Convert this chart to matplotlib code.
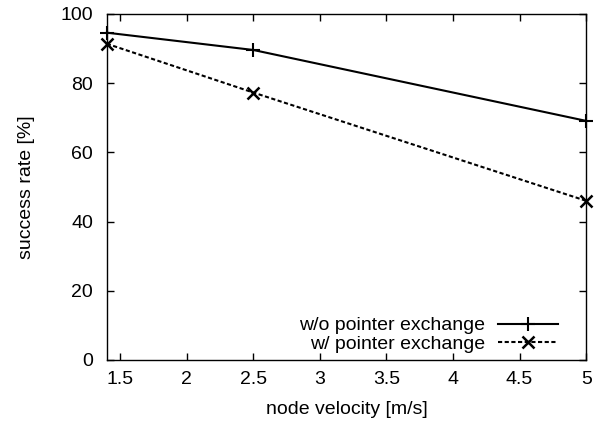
import matplotlib
matplotlib.use("Agg")
import matplotlib.pyplot as plt

plt.rcParams['font.family'] = ['Liberation Sans', 'DejaVu Sans']

velocity = [1.4, 2.5, 5.0]
without_exchange = [94.6, 89.6, 69.1]
with_exchange = [91.4, 77.3, 46.0]

fig = plt.figure(figsize=(6, 4.24), dpi=100)
ax = fig.add_axes([0.178, 0.151, 0.799, 0.816])

ax.plot(velocity, without_exchange, color="black", lw=1.5, marker="+",
        markersize=10, markeredgewidth=1.5, clip_on=False,
        label="w/o pointer exchange")
ax.plot(velocity, with_exchange, color="black", lw=1.5, ls=(0, (2, 1.2)),
        marker="x", markersize=8, markeredgewidth=1.8, clip_on=False,
        label="w/ pointer exchange")

ax.set_xlim(1.4, 5)
ax.set_ylim(0, 100)
ax.set_xticks([1.5, 2, 2.5, 3, 3.5, 4, 4.5, 5])
ax.set_xticklabels(["1.5", "2", "2.5", "3", "3.5", "4", "4.5", "5"])
ax.set_yticks([0, 20, 40, 60, 80, 100])
ax.tick_params(direction="in", top=True, right=True, length=5, width=1,
               labelsize=14)
ax.tick_params(axis="y", pad=10)
ax.tick_params(axis="x", pad=8)
for s in ax.spines.values():
    s.set_linewidth(1)

ax.set_xlabel("node velocity [m/s]", fontsize=14, labelpad=9)
ax.set_ylabel("success rate [%]", fontsize=14, labelpad=18)

leg = ax.legend(loc="lower right", bbox_to_anchor=(0.9415, 0.02),
                frameon=False, markerfirst=False, fontsize=14,
                handlelength=3.1, borderaxespad=0, borderpad=0,
                labelspacing=0.05, handletextpad=0.65)
for t in leg.get_texts():
    t.set_ha("right")

fig.savefig("out.png", dpi=100)
